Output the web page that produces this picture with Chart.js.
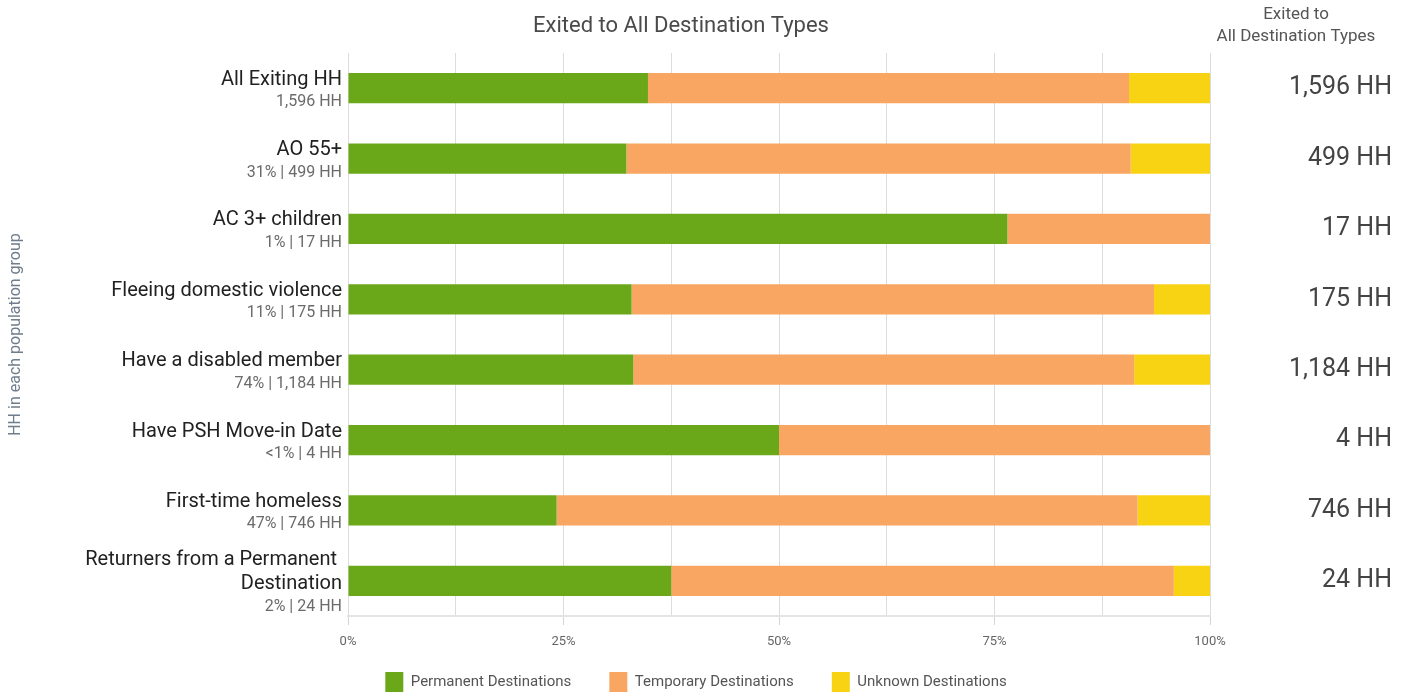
<!DOCTYPE html>
<html>
<head>
<meta charset="utf-8">
<script src="https://cdn.jsdelivr.net/npm/chart.js@4.4.0/dist/chart.umd.min.js"></script>
<style>
  html, body { margin: 0; padding: 0; background: #fff; }
</style>
</head>
<body>
<canvas id="exitChart" width="1411" height="694"></canvas>
<script>
// population groups (main label lines), the small grey line under each, and totals on the right
const groupNames = [
    ['All Exiting HH'],
    ['AO 55+'],
    ['AC 3+ children'],
    ['Fleeing domestic violence'],
    ['Have a disabled member'],
    ['Have PSH Move-in Date'],
    ['First-time homeless'],
    ['Returners from a Permanent ', 'Destination']
];
const groupCounts = ['1,596 HH', '31% | 499 HH', '1% | 17 HH', '11% | 175 HH', '74% | 1,184 HH', '<1% | 4 HH', '47% | 746 HH', '2% | 24 HH'];
const totalLabels = ['1,596 HH', '499 HH', '17 HH', '175 HH', '1,184 HH', '4 HH', '746 HH', '24 HH'];

// share of exits (%) by destination type
const permanentPct = [34.8, 32.3, 76.5, 32.9, 33.1, 50.0, 24.2, 37.5];
const temporaryPct = [55.8, 58.5, 23.5, 60.6, 58.1, 50.0, 67.4, 58.3];
const unknownPct   = [9.4, 9.2, 0, 6.5, 8.8, 0, 8.4, 4.2];

Chart.defaults.font.family = "Roboto, 'Noto Sans', sans-serif";

// draws the two-line group labels on the left plus the headers
const groupLabelsPlugin = {
    id: 'groupLabels',
    afterLayout(chart) {
        // x axis box is kept short so the legend can sit close; let its labels draw below it
        const xs = chart.scales.x;
        xs.bottom = xs.top + 40;
    },
    afterDraw(chart) {
        const ctx = chart.ctx;
        const yScale = chart.scales.y;
        const xRight = chart.chartArea.left - 6;
        ctx.save();
        ctx.textAlign = 'right';
        ctx.textBaseline = 'middle';
        groupNames.forEach(function (lines, i) {
            const yc = yScale.getPixelForValue(i);
            const top = yc - (lines.length * 24 + 21) / 2 + 2;
            ctx.font = "20px Roboto";
            ctx.fillStyle = '#212121';
            lines.forEach(function (t, j) {
                ctx.fillText(t, xRight, top + 12 + 24 * j);
            });
            ctx.font = "16px Roboto";
            ctx.fillStyle = '#6b6b6b';
            ctx.fillText(groupCounts[i], xRight, top + lines.length * 24 + 10.5);
        });

        ctx.textAlign = 'center';
        ctx.font = "22px Roboto";
        ctx.fillStyle = '#4a4a4a';
        ctx.fillText('Exited to All Destination Types', 681, 26);
        ctx.font = "17px Roboto";
        ctx.fillStyle = '#555';
        ctx.fillText('Exited to', 1296, 15);
        ctx.fillText('All Destination Types', 1296, 37);
        ctx.restore();
    }
};

const ctx = document.getElementById('exitChart').getContext('2d');
const exitChart = new Chart(ctx, {
    type: 'bar',
    data: {
        labels: groupNames.map(l => l.join('')),
        datasets: [{
            label: 'Permanent Destinations',
            data: permanentPct,
            backgroundColor: '#6aa81a',
            borderWidth: 0
        }, {
            label: 'Temporary Destinations',
            data: temporaryPct,
            backgroundColor: '#f8a662',
            borderWidth: 0
        }, {
            label: 'Unknown Destinations',
            data: unknownPct,
            backgroundColor: '#f8d314',
            borderWidth: 0
        }]
    },
    options: {
        indexAxis: 'y',
        responsive: false,
        animation: false,
        barPercentage: 0.43,
        categoryPercentage: 1,
        layout: {
            padding: { top: 53, bottom: -8, left: 0, right: 19 }
        },
        scales: {
            x: {
                stacked: true,
                min: 0,
                max: 100,
                ticks: {
                    stepSize: 12.5,
                    autoSkip: false,
                    maxRotation: 0,
                    padding: 9,
                    color: '#666',
                    font: { size: 13 },
                    callback: v => (v % 25 === 0 ? v + '%' : '')
                },
                grid: {
                    color: '#dcdcdc',
                    tickLength: 9,
                    tickColor: c => (c.tick && c.tick.value % 25 === 0 ? '#d4d4d4' : 'rgba(0,0,0,0)')
                },
                border: { color: '#e4e4e4', width: 2 },
                afterFit(s) { s.height = 18; }
            },
            y: {
                stacked: true,
                grid: { display: false },
                border: { display: false },
                ticks: { display: false },
                title: {
                    display: true,
                    text: 'HH in each population group',
                    color: '#6f7d8c',
                    font: { size: 16 },
                    padding: { top: 6, bottom: 0 }
                },
                afterFit(s) { s.width = 348; }
            },
            y2: {
                type: 'category',
                labels: totalLabels,
                position: 'right',
                offset: true,
                grid: { display: false, drawTicks: false },
                border: { display: false },
                ticks: {
                    color: '#444',
                    font: { size: 25 },
                    crossAlign: 'far',
                    padding: 0
                },
                afterFit(s) { s.width = 182; }
            }
        },
        plugins: {
            legend: {
                position: 'bottom',
                labels: {
                    boxWidth: 18,
                    boxHeight: 20,
                    padding: 38,
                    color: '#555',
                    font: { size: 15 }
                }
            },
            tooltip: { enabled: true }
        }
    },
    plugins: [groupLabelsPlugin]
});
</script>
</body>
</html>
